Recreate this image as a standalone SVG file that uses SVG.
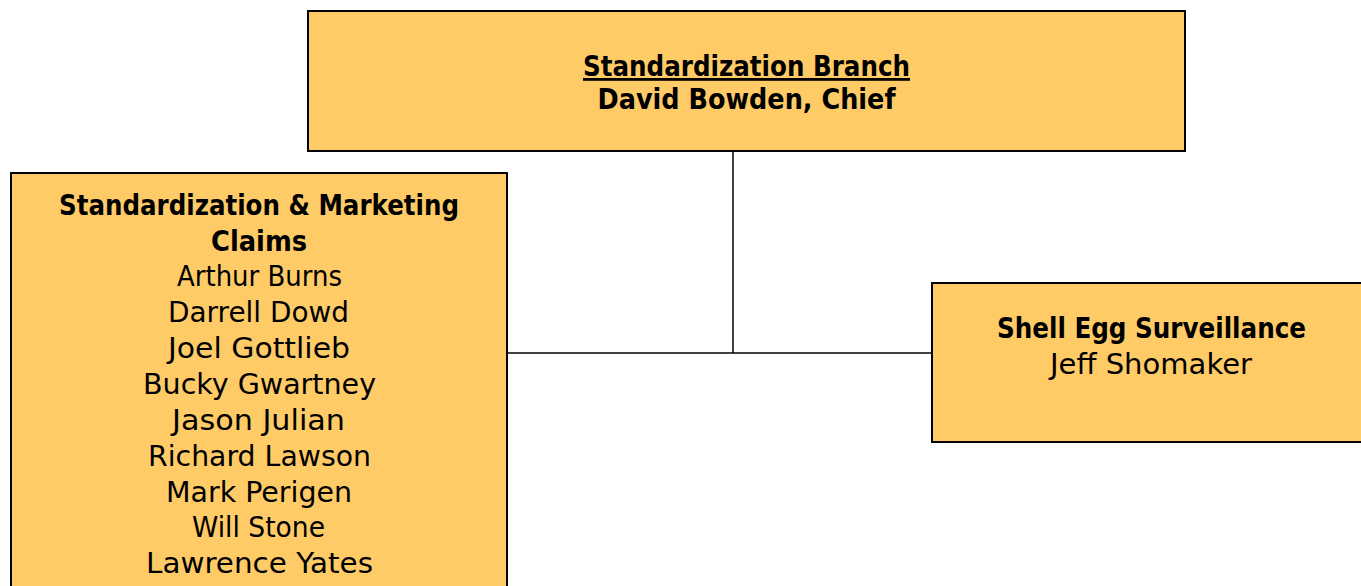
<svg xmlns="http://www.w3.org/2000/svg" width="1361" height="586" viewBox="0 0 1361 586">
<style>
.box{fill:#FECB67;stroke:#000;stroke-width:2}
.conn{stroke:#000;stroke-width:1.5;fill:none}
text{font-family:"DejaVu Sans","Liberation Sans",sans-serif;font-size:28px;fill:#000;text-anchor:middle}
.b{font-weight:bold}
</style>
<rect width="1361" height="586" fill="#fff"/>
<g id="connectors">
<line class="conn" x1="733" y1="151" x2="733" y2="353"/>
<line class="conn" x1="507" y1="353" x2="932" y2="353"/>
</g>
<g id="branch">
<rect class="box" x="308" y="11" width="877" height="140"/>
<text class="b" x="746.5" y="76" textLength="327" lengthAdjust="spacingAndGlyphs" text-decoration="underline">Standardization Branch</text>
<text class="b" x="746.5" y="109" textLength="298" lengthAdjust="spacingAndGlyphs">David Bowden, Chief</text>
</g>
<g id="marketing">
<rect class="box" x="11" y="173" width="496" height="430"/>
<text class="b" x="259" y="215" textLength="400" lengthAdjust="spacingAndGlyphs">Standardization &amp; Marketing</text>
<text class="b" x="259" y="251" textLength="96" lengthAdjust="spacingAndGlyphs">Claims</text>
<text x="259.5" y="286" textLength="165" lengthAdjust="spacingAndGlyphs">Arthur Burns</text>
<text x="258.5" y="322" textLength="181" lengthAdjust="spacingAndGlyphs">Darrell Dowd</text>
<text x="259" y="358" textLength="182" lengthAdjust="spacingAndGlyphs">Joel Gottlieb</text>
<text x="259.5" y="394" textLength="233" lengthAdjust="spacingAndGlyphs">Bucky Gwartney</text>
<text x="258.5" y="430" textLength="173" lengthAdjust="spacingAndGlyphs">Jason Julian</text>
<text x="259.5" y="466" textLength="223" lengthAdjust="spacingAndGlyphs">Richard Lawson</text>
<text x="259" y="502" textLength="186" lengthAdjust="spacingAndGlyphs">Mark Perigen</text>
<text x="258.5" y="537" textLength="133" lengthAdjust="spacingAndGlyphs">Will Stone</text>
<text x="259.5" y="573" textLength="227" lengthAdjust="spacingAndGlyphs">Lawrence Yates</text>
</g>
<g id="shell-egg">
<rect class="box" x="932" y="283" width="440" height="159"/>
<text class="b" x="1151.5" y="338" textLength="309" lengthAdjust="spacingAndGlyphs">Shell Egg Surveillance</text>
<text x="1151" y="374" textLength="202" lengthAdjust="spacingAndGlyphs">Jeff Shomaker</text>
</g>
</svg>
